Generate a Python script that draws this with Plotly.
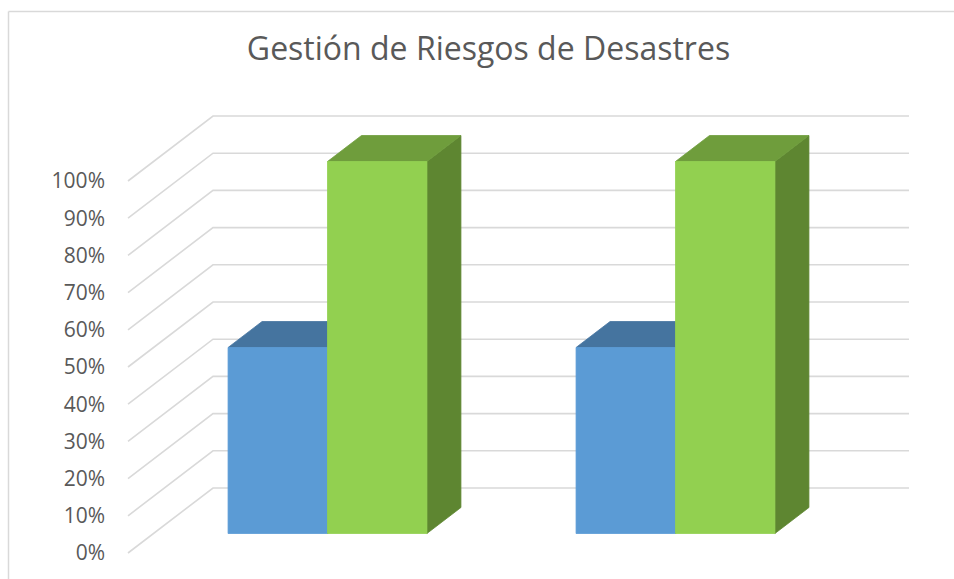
import plotly.graph_objects as go

# ---------------- data ----------------
categories = ["Categoría 1", "Categoría 2"]
series_names = ["Serie 1", "Serie 2"]
serie_1 = [50, 50]
serie_2 = [100, 100]
y_ticks = [0, 10, 20, 30, 40, 50, 60, 70, 80, 90, 100]
y_tick_labels = ["0%", "10%", "20%", "30%", "40%", "50%", "60%", "70%", "80%", "90%", "100%"]
title_text = "Gestión de Riesgos de Desastres"

# ---------------- styling / geometry ----------------
W_FIG, H_FIG = 954, 579
PX_PER_X = 348.0     # pixels per category unit
PX_PER_Y = 3.72      # pixels per percent
DEPTH_PX = (85.0, 65.0)
DX = DEPTH_PX[0] / PX_PER_X
DY = DEPTH_PX[1] / PX_PER_Y
GAP_WIDTH = 1.5
BAR_D0, BAR_D1 = 0.3, 0.7

face_colors = [
    {"front": "#5B9BD5", "top": "#45749F", "side": "#3F6D98"},
    {"front": "#92D050", "top": "#6F9D3C", "side": "#5E8631"},
]
GRID_COLOR = "#D9D9D9"
TEXT_COLOR = "#595959"
FONT = "Open Sans"

L, R, T, B = 111, 20, 100, 19
plot_w = W_FIG - L - R
plot_h = H_FIG - T - B
x_min = -0.5 - (128 - L) / PX_PER_X
x_max = x_min + plot_w / PX_PER_X
y_min = -(H_FIG - B - 553) / PX_PER_Y
y_max = y_min + plot_h / PX_PER_Y


def proj(x, y, d):
    return x + DX * d, y + DY * d


fig = go.Figure()

# gridlines: front-left diagonal then along back wall
n_cat = len(categories)
for t in y_ticks:
    pts = [proj(-0.5, t, 0), proj(-0.5, t, 1), proj(n_cat - 0.5, t, 1)]
    fig.add_trace(go.Scatter(
        x=[p[0] for p in pts], y=[p[1] for p in pts], mode="lines",
        line=dict(color=GRID_COLOR, width=1.6), hoverinfo="skip", showlegend=False))

series_values = [serie_1, serie_2]
n_ser = len(series_values)
bw = 1.0 / (n_ser + GAP_WIDTH)


def poly(points, color, name):
    xs = [p[0] for p in points] + [points[0][0]]
    ys = [p[1] for p in points] + [points[0][1]]
    fig.add_trace(go.Scatter(
        x=xs, y=ys, mode="lines", fill="toself", fillcolor=color,
        line=dict(color=color, width=0.8), name=name, hoverinfo="name",
        showlegend=False))


for i, cat in enumerate(categories):
    for k, vals in enumerate(series_values):
        v = vals[i]
        x0 = i - n_ser * bw / 2 + k * bw
        x1 = x0 + bw
        c = face_colors[k]
        side = [proj(x1, 0, BAR_D0), proj(x1, 0, BAR_D1), proj(x1, v, BAR_D1), proj(x1, v, BAR_D0)]
        top = [proj(x0, v, BAR_D0), proj(x1, v, BAR_D0), proj(x1, v, BAR_D1), proj(x0, v, BAR_D1)]
        front = [proj(x0, 0, BAR_D0), proj(x1, 0, BAR_D0), proj(x1, v, BAR_D0), proj(x0, v, BAR_D0)]
        poly(side, c["side"], series_names[k])
        poly(top, c["top"], series_names[k])
        poly(front, c["front"], series_names[k])


def xp(px):
    return (px - L) / plot_w


def yp(py):
    return (H_FIG - B - py) / plot_h


fig.update_layout(
    width=W_FIG, height=H_FIG, autosize=False,
    margin=dict(l=L, r=R, t=T, b=B),
    paper_bgcolor="white", plot_bgcolor="white",
    title=dict(text=title_text, x=488.5 / W_FIG, xref="container", xanchor="center",
               y=1 - 49 / H_FIG, yref="container", yanchor="middle",
               font=dict(family=FONT, size=32, color=TEXT_COLOR)),
    xaxis=dict(range=[x_min, x_max], visible=False, fixedrange=True),
    yaxis=dict(range=[y_min, y_max], tickmode="array", tickvals=y_ticks,
               ticktext=y_tick_labels, showgrid=False, zeroline=False, showline=False,
               ticks="", ticklabelstandoff=5,
               tickfont=dict(family=FONT, size=21, color=TEXT_COLOR),
               fixedrange=True),
    shapes=[
        dict(type="line", xref="paper", yref="paper", x0=xp(8.5), y0=yp(11.5),
             x1=xp(8.5), y1=yp(600), line=dict(color=GRID_COLOR, width=1.5)),
        dict(type="line", xref="paper", yref="paper", x0=xp(8.5), y0=yp(11.5),
             x1=xp(970), y1=yp(11.5), line=dict(color=GRID_COLOR, width=1.5)),
    ],
    showlegend=False,
)

fig.write_html("out.html", config={"displayModeBar": False},
               post_script="document.body.style.margin='0px';document.body.style.overflow='hidden';")
